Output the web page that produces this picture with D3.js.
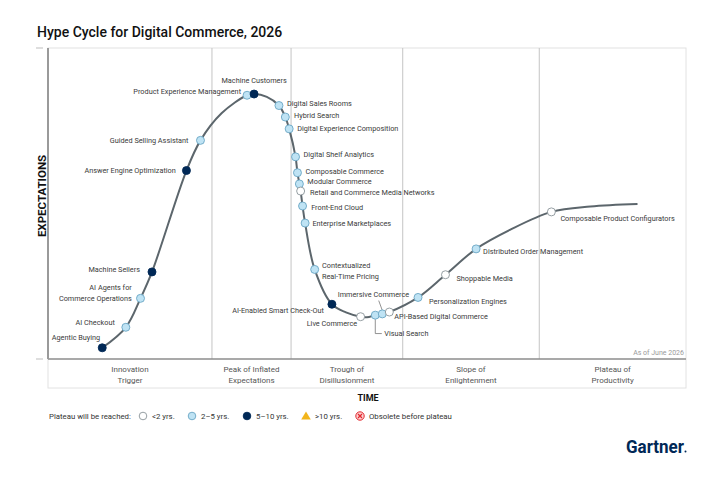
<!DOCTYPE html>
<html>
<head>
<meta charset="utf-8">
<script src="https://cdn.jsdelivr.net/npm/d3@7"></script>
<style>
  body { margin: 0; background: #fff; }
  svg { display: block; font-family: Roboto, "Noto Sans", sans-serif; }
</style>
</head>
<body>
<svg id="chart" width="727" height="480"></svg>
<script>
// technologies on the curve (time 0-100, expectations 0-100)
const techNames = [
  "Agentic Buying", "AI Checkout", "AI Agents for\nCommerce Operations", "Machine Sellers",
  "Answer Engine Optimization", "Guided Selling Assistant", "Product Experience Management",
  "Machine Customers", "Digital Sales Rooms", "Hybrid Search", "Digital Experience Composition",
  "Digital Shelf Analytics", "Composable Commerce", "Modular Commerce",
  "Retail and Commerce Media Networks", "Front-End Cloud", "Enterprise Marketplaces",
  "Contextualized\nReal-Time Pricing", "AI-Enabled Smart Check-Out", "Live Commerce",
  "Visual Search", "Immersive Commerce", "API-Based Digital Commerce",
  "Personalization Engines", "Shoppable Media", "Distributed Order Management",
  "Composable Product Configurators"
];
const techX = [8.5, 12.2, 14.5, 16.3, 21.7, 23.9, 31.2, 32.3, 36.2, 37.2, 37.8, 38.8, 39.1, 39.4,
  39.6, 39.9, 40.3, 41.8, 44.5, 49.0, 51.3, 52.4, 53.5, 58.0, 62.3, 67.1, 78.9];
const techY = [3.6, 10.2, 19.5, 28.0, 60.6, 70.3, 84.8, 85.2, 81.5, 77.8, 74.0, 65.0, 59.9, 56.3,
  54.0, 49.2, 43.7, 28.8, 17.6, 13.6, 14.1, 14.5, 15.1, 19.8, 27.1, 35.4, 47.3];
const techPlateau = ["5-10", "2-5", "2-5", "5-10", "5-10", "2-5", "2-5", "5-10", "2-5", "2-5", "2-5",
  "2-5", "2-5", "2-5", "<2", "2-5", "2-5", "2-5", "5-10", "<2", "2-5", "2-5", "<2", "2-5", "<2",
  "2-5", "<2"];

// extra points the curve passes through between the technologies
const curveX = [27.2, 34.3, 46.7, 50.0, 72.4, 85.0, 92.4];
const curveY = [79.0, 84.3, 15.0, 13.4, 41.5, 49.0, 49.8];

const phases = ["Innovation\nTrigger", "Peak of Inflated\nExpectations", "Trough of\nDisillusionment",
  "Slope of\nEnlightenment", "Plateau of\nProductivity"];
const phaseEnds = [25.7, 38.1, 55.6, 77.0, 100];

const legendLabels = ["<2 yrs.", "2\u20135 yrs.", "5\u201310 yrs.", ">10 yrs.", "Obsolete before plateau"];

const colors = {
  "<2": { fill: "#ffffff", stroke: "#8a9499" },
  "2-5": { fill: "#bfe3f4", stroke: "#6aa6c4" },
  "5-10": { fill: "#002856", stroke: "#002856" }
};

// label placement relative to each dot
const labelPos = {
  "Agentic Buying": [-2, -10, "end"],
  "AI Checkout": [-11, -4.6, "end"],
  "AI Agents for\nCommerce Operations": [-8.7, -10.6, "end"],
  "Machine Sellers": [-12, -2.3, "end"],
  "Answer Engine Optimization": [-10.7, 0, "end"],
  "Guided Selling Assistant": [-12, 0, "end"],
  "Product Experience Management": [-6, -3.6, "end"],
  "Machine Customers": [0, -13.3, "middle"],
  "Digital Sales Rooms": [8, -2, "start"],
  "Hybrid Search": [8.7, -1.3, "start"],
  "Digital Experience Composition": [8, 0, "start"],
  "Digital Shelf Analytics": [8, -2.3, "start"],
  "Composable Commerce": [8, -1.7, "start"],
  "Modular Commerce": [8, -3, "start"],
  "Retail and Commerce Media Networks": [9.4, 1, "start"],
  "Front-End Cloud": [8.6, 1, "start"],
  "Enterprise Marketplaces": [7.3, 0.7, "start"],
  "Contextualized\nReal-Time Pricing": [7.3, -4, "start"],
  "AI-Enabled Smart Check-Out": [-8, 5.7, "end"],
  "Live Commerce": [-3.4, 7, "end"],
  "Visual Search": [9, 18.4, "start"],
  "Immersive Commerce": [-44.6, -19.7, "start"],
  "API-Based Digital Commerce": [5, 4.7, "start"],
  "Personalization Engines": [11, 4.4, "start"],
  "Shoppable Media": [11, 3.3, "start"],
  "Distributed Order Management": [7, 2, "start"],
  "Composable Product Configurators": [9, 6.3, "start"]
};

const svg = d3.select("#chart");
const fLeft = 48, fRight = 686, fTop = 48, fBottom = 359, bandBottom = 388;

const x = d3.scaleLinear().domain([0, 100]).range([fLeft, fRight]);
const y = d3.scaleLinear().domain([0, 100]).range([fBottom, fTop]);

svg.append("text")
  .attr("x", 37).attr("y", 37)
  .attr("font-size", 14).attr("font-weight", 500).attr("fill", "#111")
  .text("Hype Cycle for Digital Commerce, 2026");

// frame
svg.append("rect")
  .attr("x", fLeft).attr("y", fTop).attr("width", fRight - fLeft).attr("height", bandBottom - fTop)
  .attr("fill", "none").attr("stroke", "#e2e2e2").attr("stroke-width", 1);

// phase dividers
const phaseStarts = [0].concat(phaseEnds.slice(0, -1));
svg.selectAll(".divider")
  .data(phaseEnds.slice(0, -1))
  .enter().append("line")
  .attr("x1", d => x(d)).attr("x2", d => x(d))
  .attr("y1", fTop).attr("y2", fBottom)
  .attr("stroke", "#c4c4c4").attr("stroke-width", 1);

// axes lines
svg.append("line")
  .attr("x1", fLeft).attr("x2", fRight).attr("y1", fBottom).attr("y2", fBottom)
  .attr("stroke", "#8c8c8c").attr("stroke-width", 1.5);
svg.append("line")
  .attr("x1", fLeft).attr("x2", fLeft).attr("y1", fTop).attr("y2", fBottom)
  .attr("stroke", "#9a9a9a").attr("stroke-width", 2);
[fTop, fBottom].forEach(v => {
  svg.append("line").attr("x1", 36).attr("x2", 43).attr("y1", v).attr("y2", v)
    .attr("stroke", "#bdbdbd").attr("stroke-width", 1);
});

// phase labels
const phaseG = svg.selectAll(".phase")
  .data(phases)
  .enter().append("text")
  .attr("text-anchor", "middle")
  .attr("font-size", 8).attr("fill", "#555");
phaseG.each(function(d, i) {
  const cx = x((phaseStarts[i] + phaseEnds[i]) / 2);
  d.split("\n").forEach((line, j) => {
    d3.select(this).append("tspan").attr("x", cx).attr("y", 372 + j * 10.5).text(line);
  });
});

svg.append("text")
  .attr("x", 684).attr("y", 355).attr("text-anchor", "end")
  .attr("font-size", 7).attr("fill", "#9a9a9a").text("As of June 2026");

// axis titles
svg.append("text")
  .attr("transform", "translate(46,196) rotate(-90)")
  .attr("text-anchor", "middle").attr("font-size", 11.5).attr("font-weight", 700).attr("fill", "#111")
  .text("EXPECTATIONS");
svg.append("text")
  .attr("x", 368).attr("y", 401).attr("text-anchor", "middle")
  .attr("font-size", 9).attr("font-weight", 700).attr("fill", "#111").text("TIME");

// curve
const techs = techNames.map((n, i) => ({ name: n, t: techX[i], e: techY[i], p: techPlateau[i] }));
const pathPts = techs.map(d => [d.t, d.e])
  .concat(curveX.map((v, i) => [v, curveY[i]]))
  .sort((a, b) => a[0] - b[0]);

const line = d3.line()
  .x(d => x(d[0])).y(d => y(d[1]))
  .curve(d3.curveCatmullRom.alpha(0.5));

svg.append("path")
  .attr("d", line(pathPts))
  .attr("fill", "none").attr("stroke", "#5c666c").attr("stroke-width", 2);

// leader lines
const leader = (name, pts) => {
  const d = techs.find(t => t.name === name);
  svg.append("path")
    .attr("d", d3.line()(pts.map(p => [x(d.t) + p[0], y(d.e) + p[1]])))
    .attr("fill", "none").attr("stroke", "#777").attr("stroke-width", 0.8);
};
leader("Visual Search", [[0, 4], [0, 18.4], [6.5, 18.4]]);
leader("Immersive Commerce", [[-3.6, -13.3], [0, -3.5]]);

// dots
svg.selectAll(".dot")
  .data(techs)
  .enter().append("circle")
  .attr("cx", d => x(d.t)).attr("cy", d => y(d.e)).attr("r", 4)
  .attr("fill", d => colors[d.p].fill)
  .attr("stroke", d => colors[d.p].stroke).attr("stroke-width", 0.9);

// labels
const labels = svg.selectAll(".lbl")
  .data(techs)
  .enter().append("text")
  .attr("font-size", 7.3).attr("fill", "#3a3a3a")
  .attr("text-anchor", d => labelPos[d.name][2]);
labels.each(function(d) {
  const [dx, dy] = labelPos[d.name];
  d.name.split("\n").forEach((l, j) => {
    d3.select(this).append("tspan")
      .attr("x", x(d.t) + dx).attr("y", y(d.e) + dy + 2.6 + j * 10.5).text(l);
  });
});

// legend
const lg = svg.append("g").attr("font-size", 7.8).attr("fill", "#333");
lg.append("text").attr("x", 49).attr("y", 419).text("Plateau will be reached:");
const symX = [143, 192, 247, 306, 360];
legendLabels.forEach((t, i) => {
  const cx = symX[i], cy = 416;
  if (i < 3) {
    const c = colors[["<2", "2-5", "5-10"][i]];
    lg.append("circle").attr("cx", cx).attr("cy", cy).attr("r", 3.8)
      .attr("fill", c.fill).attr("stroke", c.stroke).attr("stroke-width", 0.9);
  } else if (i === 3) {
    lg.append("path").attr("d", `M${cx},${cy - 4.5}L${cx + 4.8},${cy + 3.5}L${cx - 4.8},${cy + 3.5}Z`)
      .attr("fill", "#f2b51b");
  } else {
    lg.append("circle").attr("cx", cx).attr("cy", cy).attr("r", 4.2)
      .attr("fill", "#fbd3d3").attr("stroke", "#e3262d").attr("stroke-width", 1);
    lg.append("path").attr("d", `M${cx - 2},${cy - 2}L${cx + 2},${cy + 2}M${cx + 2},${cy - 2}L${cx - 2},${cy + 2}`)
      .attr("stroke", "#e3262d").attr("stroke-width", 1.2);
  }
  lg.append("text").attr("x", cx + 9).attr("y", 419).text(t);
});

// logo
svg.append("text")
  .attr("x", 626).attr("y", 453)
  .attr("font-size", 19).attr("font-weight", 700).attr("fill", "#002856")
  .attr("textLength", 58).attr("lengthAdjust", "spacingAndGlyphs")
  .text("Gartner");
svg.append("circle").attr("cx", 685.5).attr("cy", 451.5).attr("r", 1).attr("fill", "#002856");
</script>
</body>
</html>
